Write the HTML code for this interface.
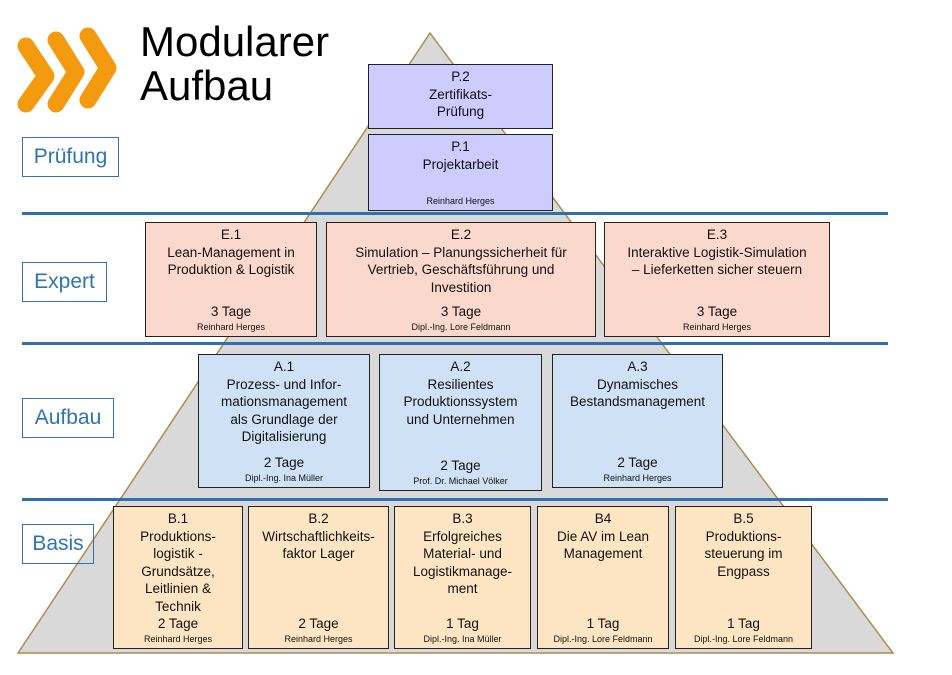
<!DOCTYPE html>
<html><head><meta charset="utf-8"><style>
body{margin:0;width:952px;height:675px;background:#fff;position:relative;overflow:hidden;font-family:"Liberation Sans",Arial,sans-serif}
.b{position:absolute;border:1px solid #222;box-sizing:border-box;text-align:center;font-size:13.5px;line-height:17.6px;color:#111}
.t{padding-top:3px}
.bt{position:absolute;left:0;right:0;bottom:3px}
.s{font-size:9px;line-height:12px}
.lab{position:absolute;border:1px solid #2e74b5;color:#2e74b5;font-size:21px;box-sizing:border-box;text-align:center;line-height:38px;font-family:"Liberation Sans",sans-serif}
.hl{position:absolute;left:22px;width:866px;height:3px;background:#2e6fb0}
.p{background:#ccccff}.e{background:#fad9cc}.a{background:#cfe2f5}.g{background:#fde5c3}
</style></head><body>
<svg width="952" height="675" style="position:absolute;left:0;top:0">
<polygon points="430,33 18,653 893,653" fill="#d9d9d9" stroke="#b08a50" stroke-width="1.5"/>
<g fill="none" stroke="#f39a0e" stroke-width="17" stroke-linecap="round" stroke-linejoin="round">
<polyline points="26,46 46,76 26,104"/>
<polyline points="56,40 76,72 56,104"/>
<polyline points="88,36 108,68 88,100"/>
</g>
</svg>
<div style="position:absolute;left:140px;top:20px;font-size:42px;line-height:44px;color:#000">Modularer<br>Aufbau</div>
<div class="hl" style="top:212px"></div>
<div class="hl" style="top:342px"></div>
<div class="hl" style="top:498px"></div>
<div class="lab" style="left:22px;top:137px;width:97px;height:40px">Prüfung</div>
<div class="lab" style="left:22px;top:262px;width:85px;height:40px">Expert</div>
<div class="lab" style="left:22px;top:398px;width:92px;height:40px">Aufbau</div>
<div class="lab" style="left:22px;top:524px;width:72px;height:40px">Basis</div>

<div class="b p" style="left:368px;top:64px;width:185px;height:65px"><div class="t">P.2<br>Zertifikats-<br>Prüfung</div></div>
<div class="b p" style="left:368px;top:134px;width:185px;height:77px"><div class="t">P.1<br>Projektarbeit</div><div class="bt s">Reinhard Herges</div></div>

<div class="b e" style="left:145px;top:222px;width:172px;height:115px"><div class="t">E.1<br>Lean-Management in<br>Produktion &amp; Logistik</div><div class="bt">3 Tage<div class="s">Reinhard Herges</div></div></div>
<div class="b e" style="left:326px;top:222px;width:270px;height:115px"><div class="t">E.2<br>Simulation – Planungssicherheit für<br>Vertrieb, Geschäftsführung und<br>Investition</div><div class="bt">3 Tage<div class="s">Dipl.-Ing. Lore Feldmann</div></div></div>
<div class="b e" style="left:604px;top:222px;width:226px;height:115px"><div class="t">E.3<br>Interaktive Logistik-Simulation<br>– Lieferketten sicher steuern</div><div class="bt">3 Tage<div class="s">Reinhard Herges</div></div></div>

<div class="b a" style="left:198px;top:354px;width:172px;height:134px"><div class="t">A.1<br>Prozess- und Infor-<br>mationsmanagement<br>als Grundlage der<br>Digitalisierung</div><div class="bt">2 Tage<div class="s">Dipl.-Ing. Ina Müller</div></div></div>
<div class="b a" style="left:379px;top:354px;width:163px;height:137px"><div class="t">A.2<br>Resilientes<br>Produktionssystem<br>und Unternehmen</div><div class="bt">2 Tage<div class="s">Prof. Dr. Michael Völker</div></div></div>
<div class="b a" style="left:552px;top:354px;width:171px;height:134px"><div class="t">A.3<br>Dynamisches<br>Bestandsmanagement</div><div class="bt">2 Tage<div class="s">Reinhard Herges</div></div></div>

<div class="b g" style="left:113px;top:506px;width:130px;height:143px"><div class="t">B.1<br>Produktions-<br>logistik -<br>Grundsätze,<br>Leitlinien &amp;<br>Technik</div><div class="bt">2 Tage<div class="s">Reinhard Herges</div></div></div>
<div class="b g" style="left:248px;top:506px;width:141px;height:143px"><div class="t">B.2<br>Wirtschaftlichkeits-<br>faktor Lager</div><div class="bt">2 Tage<div class="s">Reinhard Herges</div></div></div>
<div class="b g" style="left:394px;top:506px;width:137px;height:143px"><div class="t">B.3<br>Erfolgreiches<br>Material- und<br>Logistikmanage-<br>ment</div><div class="bt">1 Tag<div class="s">Dipl.-Ing. Ina Müller</div></div></div>
<div class="b g" style="left:537px;top:506px;width:132px;height:143px"><div class="t">B4<br>Die AV im Lean<br>Management</div><div class="bt">1 Tag<div class="s">Dipl.-Ing. Lore Feldmann</div></div></div>
<div class="b g" style="left:675px;top:506px;width:137px;height:143px"><div class="t">B.5<br>Produktions-<br>steuerung im<br>Engpass</div><div class="bt">1 Tag<div class="s">Dipl.-Ing. Lore Feldmann</div></div></div>
</body></html>
